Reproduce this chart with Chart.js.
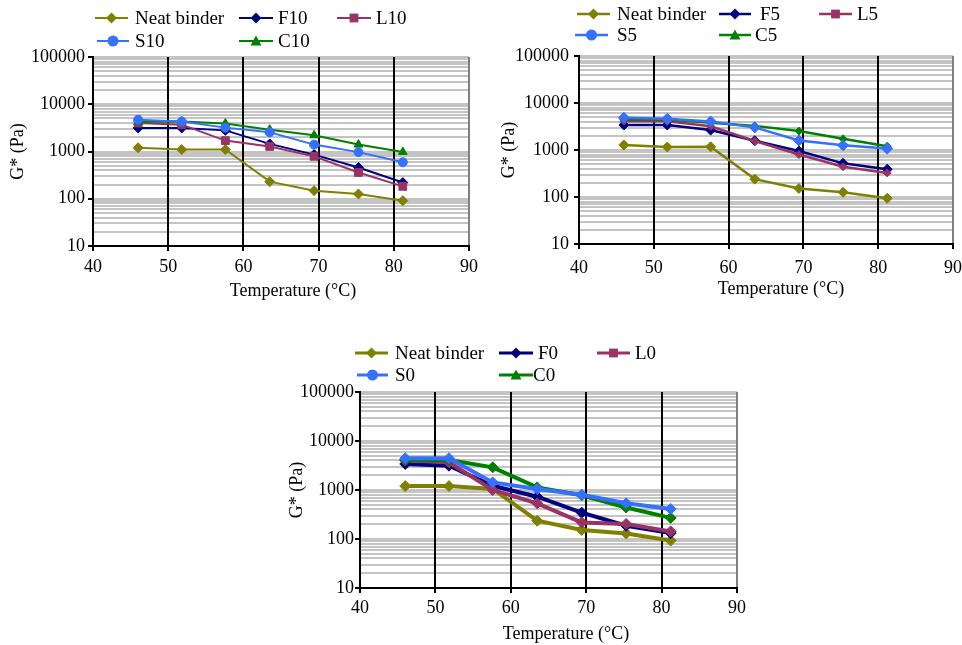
<!DOCTYPE html>
<html>
<head>
<meta charset="utf-8">
<script src="https://cdn.jsdelivr.net/npm/chart.js@4/dist/chart.umd.min.js"></script>
<style>
    body {margin: 0; background: #fff; width: 962px; height: 645px; position: relative; overflow: hidden;
          font-family: 'Liberation Serif', 'Times New Roman', serif; color: #000;}
    canvas {position: absolute;}
    .leg-line {position: absolute;}
    .leg-text {position: absolute; font-size: 19px; line-height: 19px; white-space: pre;}
    .x-title {position: absolute; font-size: 18px; line-height: 18px; white-space: nowrap; transform: translate(-50%, -50%);}
</style>
</head>
<body>
<script>
// temperatures (°C) where G* was measured
const temps = [46.0, 51.8, 57.6, 63.5, 69.4, 75.3, 81.2]

// y axis labels (log scale) and the x axis range
const tick_labels = [10, 100, 1000, 10000, 100000]
const minor_steps = [1, 2, 3, 4, 5, 6, 7, 8, 9]
const x_min = 40
const x_max = 90

// 10 % charts
const neat_10 = [1200, 1100, 1100, 230, 148, 126, 91]
const f_10 = [3150, 3150, 2800, 1450, 860, 460, 220]
const l_10 = [4000, 3700, 1700, 1280, 790, 360, 183]
const s_10 = [4700, 4300, 3200, 2550, 1400, 970, 590]
const c_10 = [4200, 4300, 3900, 2900, 2200, 1400, 980]

// 5 %
const neat_5 = [1280, 1160, 1170, 240, 152, 126, 94]
const f_5 = [3400, 3400, 2650, 1580, 950, 520, 390]
const l_5 = [4100, 4100, 3200, 1550, 800, 440, 325]
const s_5 = [4850, 4600, 4050, 3030, 1600, 1260, 1070]
const c_5 = [4450, 4450, 3800, 3260, 2530, 1730, 1200]

// 0 %
const neat_0 = [1200, 1200, 1050, 236, 153, 130, 93]
const f_0 = [3400, 3140, 1220, 730, 345, 187, 132]
const l_0 = [4000, 3670, 1000, 535, 218, 203, 143]
const s_0 = [4440, 4440, 1430, 1050, 800, 535, 410]
const c_0 = [4100, 4100, 2900, 1130, 780, 440, 270]

const colors = {
    neat: '#808000',
    f: '#000080',
    l: '#993366',
    s: '#3670ff',
    c: '#008000'
}

// gridline values: every 1..9 of each decade
let grid_values = []
tick_labels.slice(0, -1).forEach(dec => {
    minor_steps.forEach(m => grid_values.push(dec * m))
})
grid_values.push(tick_labels[tick_labels.length - 1])

const FONT = "'Liberation Serif', 'Times New Roman', serif"

function to_points(values) {
    return values.map((v, i) => ({x: temps[i], y: v}))
}

function make_dataset(label, values, color, style, radius, width, order) {
    return {
        label: label,
        data: to_points(values),
        borderColor: color,
        backgroundColor: color,
        borderWidth: width,
        pointStyle: style,
        pointRadius: radius,
        pointHoverRadius: radius,
        pointBackgroundColor: color,
        pointBorderColor: color,
        pointBorderWidth: 1,
        tension: 0,
        order: order
    }
}

function make_chart(opt) {
    const canvas = document.createElement('canvas')
    canvas.width = opt.w
    canvas.height = opt.h
    canvas.style.left = opt.left + 'px'
    canvas.style.top = opt.top + 'px'
    canvas.style.width = opt.w + 'px'
    canvas.style.height = opt.h + 'px'
    document.body.appendChild(canvas)

    const config = {
        type: 'line',
        data: {datasets: opt.datasets},
        options: {
            responsive: false,
            animation: false,
            devicePixelRatio: 1,
            layout: {padding: opt.padding},
            plugins: {
                legend: {display: false},
                tooltip: {enabled: false}
            },
            scales: {
                x: {
                    type: 'linear',
                    min: x_min,
                    max: x_max,
                    afterFit: scale => {
                        scale.height = opt.x_height
                        scale.paddingLeft = 0
                        scale.paddingRight = 0
                    },
                    ticks: {
                        stepSize: 10,
                        maxRotation: 0,
                        autoSkip: false,
                        color: '#000',
                        padding: opt.x_pad,
                        font: {family: FONT, size: 18}
                    },
                    grid: {
                        z: -1,
                        color: ctx => {
                            const v = ctx.tick ? ctx.tick.value : 0
                            if (v == x_max) return '#808080'
                            if (v == x_min) return 'rgba(0,0,0,0)'
                            return '#000'
                        },
                        lineWidth: 2,
                        tickLength: 5,
                        tickColor: '#000',
                        tickWidth: 2
                    },
                    border: {color: '#000', width: 2}
                },
                y: {
                    type: 'logarithmic',
                    min: 10,
                    max: 100000,
                    afterBuildTicks: scale => {
                        scale.ticks = grid_values.map(v => ({value: v, major: tick_labels.includes(v)}))
                    },
                    afterFit: scale => {
                        scale.width = opt.y_width
                        scale.paddingTop = 0
                        scale.paddingBottom = 0
                    },
                    ticks: {
                        autoSkip: false,
                        color: '#000',
                        padding: opt.y_pad,
                        font: {family: FONT, size: 18},
                        callback: v => tick_labels.includes(v) ? String(v) : ''
                    },
                    grid: {
                        z: -2, // gray lines go under the black vertical ones
                        color: '#c4c4c4',
                        lineWidth: 2,
                        tickLength: 5,
                        tickWidth: 2,
                        tickColor: ctx => (ctx.tick && tick_labels.includes(ctx.tick.value)) ? '#000' : 'rgba(0,0,0,0)'
                    },
                    border: {color: '#000', width: 2},
                    title: {
                        display: true,
                        text: 'G* (Pa)',
                        color: '#000',
                        padding: 0,
                        font: {family: FONT, size: 18}
                    }
                }
            }
        }
    }
    new Chart(canvas, config)
}

// legend: a short line with the marker in the middle, then the name
function marker_svg(style, color, r) {
    if (style == 'rectRot') {
        return `<polygon points="0,${-r} ${r},0 0,${r} ${-r},0" fill="${color}"/>`
    } else if (style == 'rect') {
        return `<rect x="${-r * 0.8}" y="${-r * 0.8}" width="${r * 1.6}" height="${r * 1.6}" fill="${color}"/>`
    } else if (style == 'circle') {
        return `<circle cx="0" cy="0" r="${r}" fill="${color}"/>`
    }
    return `<polygon points="0,${-r} ${r},${r * 0.8} ${-r},${r * 0.8}" fill="${color}"/>`
}

function add_legend_item(name, color, style, x1, x2, y, text_x, width) {
    const len = x2 - x1
    const svg = document.createElementNS('http://www.w3.org/2000/svg', 'svg')
    svg.setAttribute('class', 'leg-line')
    svg.setAttribute('width', len + 12)
    svg.setAttribute('height', 16)
    svg.style.left = (x1 - 6) + 'px'
    svg.style.top = (y - 8) + 'px'
    svg.innerHTML = `<g transform="translate(6,8)"><line x1="0" y1="0" x2="${len}" y2="0" stroke="${color}" stroke-width="${width}"/>` +
        `<g transform="translate(${len / 2},0)">${marker_svg(style, color, 5.5)}</g></g>`
    document.body.appendChild(svg)

    const span = document.createElement('div')
    span.className = 'leg-text'
    span.style.left = text_x + 'px'
    span.style.top = (y - 10) + 'px'
    span.textContent = name
    document.body.appendChild(span)
}

function add_x_title(cx, cy) {
    const t = document.createElement('div')
    t.className = 'x-title'
    t.style.left = cx + 'px'
    t.style.top = cy + 'px'
    t.textContent = 'Temperature (°C)'
    document.body.appendChild(t)
}

// top left: 10 %
make_chart({
    left: 0, top: 0, w: 480, h: 301,
    padding: {left: 7, top: 57, right: 11, bottom: 0},
    y_width: 86, x_height: 55, x_pad: 5, y_pad: 3,
    datasets: [
        make_dataset('Neat binder', neat_10, colors.neat, 'rectRot', 5, 2, 4),
        make_dataset('F10', f_10, colors.f, 'rectRot', 5, 2, 3),
        make_dataset('L10', l_10, colors.l, 'rect', 5.5, 2, 2),
        make_dataset('S10', s_10, colors.s, 'circle', 4.5, 2, 0),
        make_dataset('C10', c_10, colors.c, 'triangle', 5, 2, 1)
    ]
})
add_legend_item('Neat binder', colors.neat, 'rectRot', 95, 128, 18, 135, 2)
add_legend_item('F10', colors.f, 'rectRot', 239, 273, 18, 278, 2)
add_legend_item('L10', colors.l, 'rect', 337, 371, 18, 376, 2)
add_legend_item('S10', colors.s, 'circle', 97, 129, 41, 135, 2)
add_legend_item('C10', colors.c, 'triangle', 239, 273, 41, 278, 2)
add_x_title(293, 290)

// top right: 5 %
make_chart({
    left: 480, top: 0, w: 482, h: 299,
    padding: {left: 18, top: 56, right: 9, bottom: 0},
    y_width: 81, x_height: 55, x_pad: 8, y_pad: 5,
    datasets: [
        make_dataset('Neat binder', neat_5, colors.neat, 'rectRot', 5, 2.5, 4),
        make_dataset('F5', f_5, colors.f, 'rectRot', 5, 2.5, 3),
        make_dataset('L5', l_5, colors.l, 'rectRot', 4, 2.5, 2),
        make_dataset('S5', s_5, colors.s, 'rectRot', 5.5, 2.5, 0),
        make_dataset('C5', c_5, colors.c, 'rectRot', 4, 2.5, 1)
    ]
})
add_legend_item('Neat binder', colors.neat, 'rectRot', 577, 610, 14, 617, 2.5)
add_legend_item('F5', colors.f, 'rectRot', 719, 751, 14, 760, 2.5)
add_legend_item('L5', colors.l, 'rect', 819, 852, 14, 857, 2.5)
add_legend_item('S5', colors.s, 'circle', 575, 608, 35, 617, 2.5)
add_legend_item('C5', colors.c, 'triangle', 719, 751, 35, 755, 2.5)
add_x_title(781, 288)

// bottom: 0 %
make_chart({
    left: 280, top: 330, w: 480, h: 314,
    padding: {left: 6, top: 62, right: 23, bottom: 0},
    y_width: 74, x_height: 56, x_pad: 4.5, y_pad: 1,
    datasets: [
        make_dataset('Neat binder', neat_0, colors.neat, 'rectRot', 5.5, 4, 4),
        make_dataset('F0', f_0, colors.f, 'rectRot', 5.5, 4, 3),
        make_dataset('L0', l_0, colors.l, 'rectRot', 5.5, 4, 2),
        make_dataset('S0', s_0, colors.s, 'rectRot', 5.5, 4, 0),
        make_dataset('C0', c_0, colors.c, 'rectRot', 5.5, 4, 1)
    ]
})
add_legend_item('Neat binder', colors.neat, 'rectRot', 355, 388, 353, 395, 3)
add_legend_item('F0', colors.f, 'rectRot', 499, 533, 353, 538, 3)
add_legend_item('L0', colors.l, 'rect', 597, 630, 353, 635, 3)
add_legend_item('S0', colors.s, 'circle', 357, 388, 375, 395, 3)
add_legend_item('C0', colors.c, 'triangle', 499, 533, 375, 533, 3)
add_x_title(566, 633)
</script>
</body>
</html>
